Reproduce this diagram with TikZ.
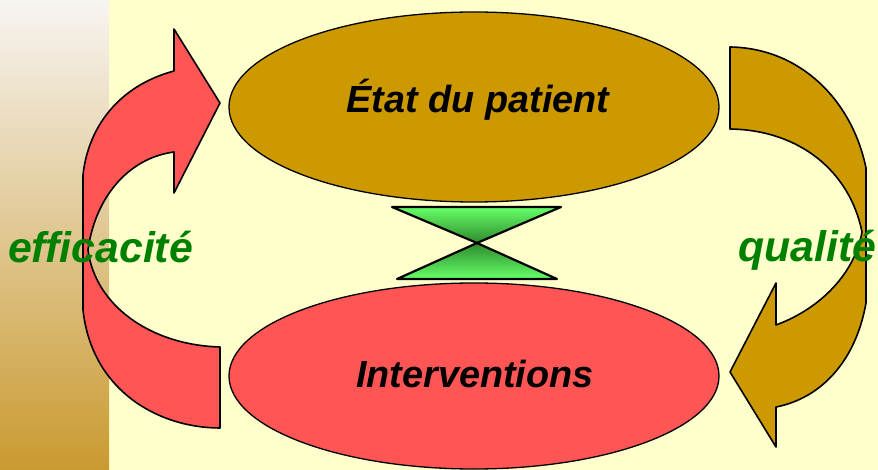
\documentclass[tikz,border=0pt]{standalone}
\usepackage{fontspec}
\setmainfont{Liberation Sans}
\usetikzlibrary{shapes.geometric}
\definecolor{bgyellow}{HTML}{FFFFCC}
\definecolor{stripTop}{HTML}{F7F4F2}
\definecolor{stripBot}{HTML}{C99A30}
\definecolor{goldE}{HTML}{CC9900}
\definecolor{redE}{HTML}{FF5555}
\definecolor{lblgreen}{HTML}{008000}
\definecolor{hgLight}{HTML}{66FF66}
\definecolor{hgDark}{HTML}{2E8B2E}
\begin{document}
\begin{tikzpicture}[x=1pt,y=-1pt,
  blockarrow/.style={draw=black, line width=1.6pt, line join=round},
  oval/.style={ellipse, draw=black, line width=1.3pt, inner sep=0pt, outer sep=0pt,
    minimum width=490pt},
  ovaltext/.style={font=\fontsize{37.8}{40}\selectfont\bfseries\itshape, text=black,
    anchor=base, inner sep=0pt},
  sidelabel/.style={font=\fontsize{42.8}{46}\selectfont\bfseries\itshape, text=lblgreen,
    anchor=base west, inner sep=0pt},
  hgline/.style={draw=black, line width=2.2pt, line join=round}]
\useasboundingbox (0,0) rectangle (878,470);
\fill[bgyellow] (0,0) rectangle (878,470);
\shade[top color=stripTop, bottom color=stripBot] (0,0) rectangle (109,470);

% left red curved arrow
\path[blockarrow, fill=redE]
  (174,71) .. controls (118,86) and (88,128) .. (83,175)
  -- (83,310) .. controls (92,392) and (160,428) .. (220,428)
  -- (220,347) .. controls (150,345) and (95,305) .. (88,250)
  .. controls (95,198) and (128,158) .. (174,152)
  -- (174,193) -- (220,103) -- (174,29) -- cycle;

% right gold curved arrow
\path[blockarrow, fill=goldE]
  (730,47) .. controls (800,48) and (852,100) .. (866,168)
  -- (866,303) .. controls (856,360) and (822,398) .. (776,407)
  -- (776,447) -- (730,372) -- (776,283) -- (776,325)
  .. controls (822,308) and (855,272) .. (862,232)
  .. controls (850,172) and (800,130) .. (730,129) -- cycle;

% ellipses
\node[oval, fill=goldE, minimum height=190pt] (etat) at (474,107) {};
\node[oval, fill=redE, minimum height=186pt] (interv) at (474,376) {};
\node[ovaltext] (etatT) at (478,113) {État du patient};
\node[ovaltext] (intervT) at (475,387) {Interventions};

% hourglass
\coordinate (hgTL) at (392,207);
\coordinate (hgTR) at (561,207);
\coordinate (hgC) at (477,243);
\coordinate (hgBL) at (397,279);
\coordinate (hgBR) at (557,279);
\shade[top color=hgLight, middle color=hgLight!70!hgDark, bottom color=hgDark]
  (hgTL) -- (hgTR) -- (hgC) -- cycle;
\shade[top color=hgDark, middle color=hgLight!70!hgDark, bottom color=hgLight]
  (hgC) -- (hgBR) -- (hgBL) -- cycle;
\draw[hgline] (hgTL) -- (hgTR) -- (hgC) -- cycle;
\draw[hgline] (hgC) -- (hgBR) -- (hgBL) -- cycle;

% side labels
\node[sidelabel] (eff) at (8,263) {efficacité};
\node[sidelabel] (qual) at (738,262) {qualité};
\end{tikzpicture}
\end{document}
